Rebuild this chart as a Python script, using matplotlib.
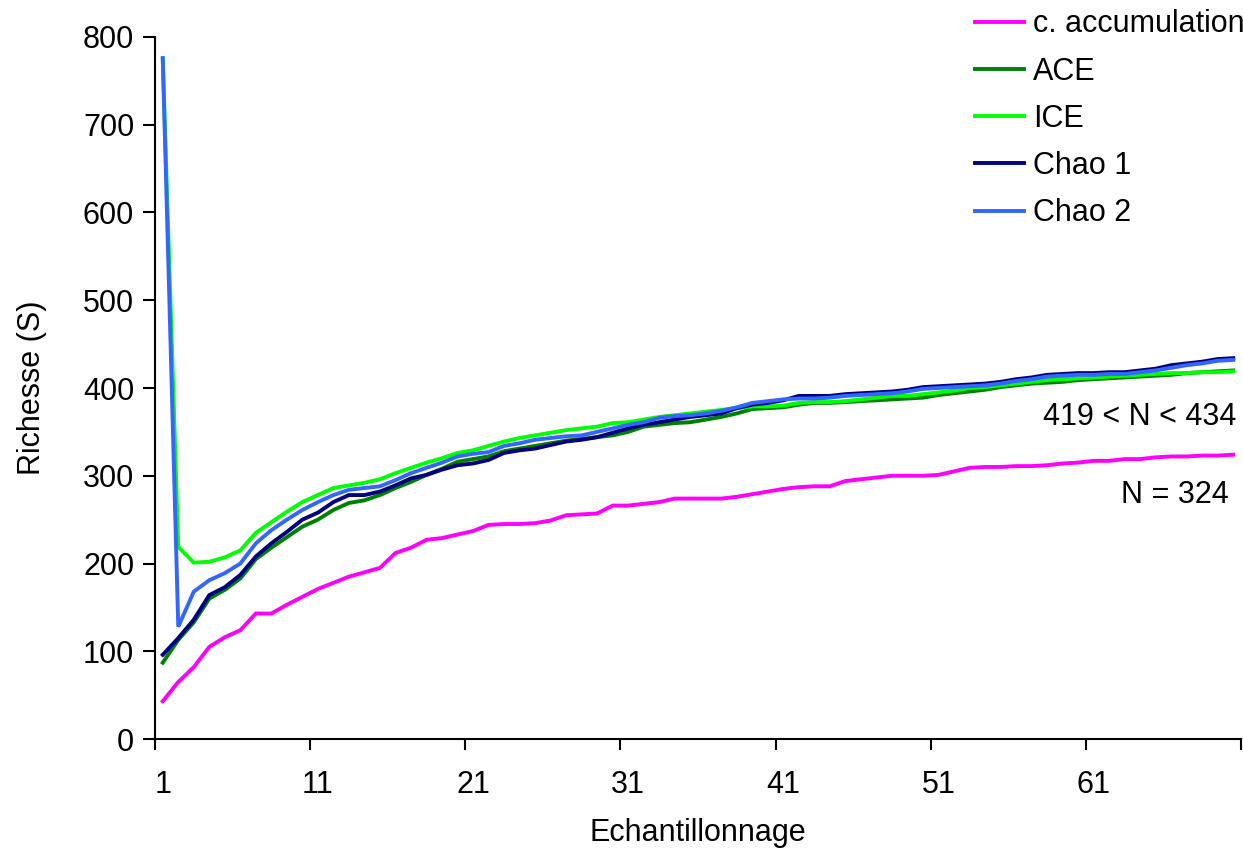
import matplotlib
matplotlib.use("Agg")
import matplotlib.pyplot as plt

plt.rcParams["font.family"] = ["Liberation Sans", "DejaVu Sans"]

samples = list(range(1, 71))

accumulation = [43, 65, 82, 105, 116, 124, 143, 143, 153, 162,
                171, 178, 185, 190, 195, 212, 218, 227, 229, 233,
                237, 244, 245, 245, 246, 249, 255, 256, 257, 266,
                266, 268, 270, 274, 274, 274, 274, 276, 279, 282,
                285, 287, 288, 288, 294, 296, 298, 300, 300, 300,
                301, 305, 309, 310, 310, 311, 311, 312, 314, 315,
                317, 317, 319, 319, 321, 322, 322, 323, 323, 324]

ace = [87, 113, 133, 160, 170, 183, 205, 218, 230, 242,
       250, 261, 269, 272, 278, 286, 293, 301, 308, 316,
       319, 322, 328, 331, 334, 337, 340, 342, 344, 346,
       350, 356, 358, 360, 361, 364, 367, 371, 376, 377,
       378, 381, 383, 383, 384, 385, 386, 387, 388, 389,
       392, 394, 396, 398, 401, 403, 405, 406, 407, 409,
       410, 411, 412, 413, 414, 415, 417, 418, 419, 420]

ice = [775, 219, 201, 202, 207, 215, 235, 247, 259, 270,
       278, 286, 289, 292, 296, 303, 309, 315, 320, 326,
       329, 334, 339, 343, 346, 349, 352, 354, 356, 360,
       361, 364, 367, 369, 371, 373, 375, 377, 379, 379,
       380, 383, 384, 384, 385, 387, 389, 391, 391, 393,
       395, 397, 400, 401, 403, 405, 407, 409, 410, 411,
       412, 413, 414, 415, 416, 417, 417, 418, 418, 419]

chao1 = [96, 115, 136, 164, 173, 187, 208, 223, 236, 250,
         258, 270, 278, 278, 282, 289, 297, 301, 307, 312,
         314, 318, 326, 329, 331, 335, 339, 341, 344, 349,
         354, 358, 361, 364, 367, 369, 371, 377, 381, 383,
         386, 391, 391, 391, 393, 394, 395, 396, 398, 401,
         402, 403, 404, 405, 407, 410, 412, 415, 416, 417,
         417, 418, 418, 420, 422, 426, 428, 430, 433, 434]

chao2 = [776, 128, 168, 181, 189, 200, 223, 238, 250, 261,
         270, 278, 284, 286, 288, 295, 303, 309, 315, 322,
         325, 327, 334, 337, 341, 343, 345, 346, 350, 354,
         358, 361, 366, 368, 369, 371, 374, 378, 383, 385,
         387, 388, 388, 389, 391, 392, 393, 394, 396, 399,
         400, 401, 402, 403, 405, 408, 410, 413, 414, 415,
         415, 416, 416, 418, 420, 423, 426, 428, 431, 432]

series_names = ["c. accumulation", "ACE", "ICE", "Chao 1", "Chao 2"]
series_colors = ["#FF00FF", "#008000", "#00FF00", "#000080", "#3366FF"]

x_labels = [1, 11, 21, 31, 41, 51, 61]


def main():
    fig = plt.figure(figsize=(12.43, 8.52), dpi=100)
    ax = fig.add_axes([0.1247, 0.1326, 0.8737, 0.824])

    for values, name, color in zip([accumulation, ace, ice, chao1, chao2],
                                   series_names, series_colors):
        ax.plot(samples, values, color=color, lw=2.8, label=name,
                solid_joinstyle="miter")

    ax.set_xlim(0.5, 70.5)
    ax.set_ylim(0, 800)

    for side in ["top", "right"]:
        ax.spines[side].set_visible(False)
    for side in ["left", "bottom"]:
        ax.spines[side].set_linewidth(1.5)

    ax.set_yticks(range(0, 801, 100))
    ax.tick_params(axis="y", direction="out", length=9, width=1.5,
                   labelsize=22, pad=6)

    # ticks sit between categories, labels sit on the categories
    ax.set_xticks([v - 0.5 for v in range(1, 72, 10)])
    ax.set_xticklabels([])
    ax.set_xticks(x_labels, minor=True)
    ax.set_xticklabels([str(v) for v in x_labels], minor=True)
    ax.tick_params(axis="x", which="major", direction="out", length=8, width=1.5)
    ax.tick_params(axis="x", which="minor", length=0, labelsize=22, pad=22)

    ax.set_xlabel("Echantillonnage", fontsize=22, labelpad=13)
    ax.set_ylabel("Richesse (S)", fontsize=22, labelpad=26)

    ax.text(70.2, 367, "419 < N < 434", fontsize=22, ha="right", va="center")
    ax.text(69.7, 278, "N = 324", fontsize=22, ha="right", va="center")

    ax.legend(loc="upper left", bbox_to_anchor=(975 / 1243, 0.989),
              bbox_transform=fig.transFigure, frameon=False, fontsize=22,
              handlelength=1.6, handletextpad=0.3, labelspacing=0.565,
              borderpad=0.0, borderaxespad=0.0)

    fig.savefig("out.png", dpi=100)


if __name__ == "__main__":
    main()
